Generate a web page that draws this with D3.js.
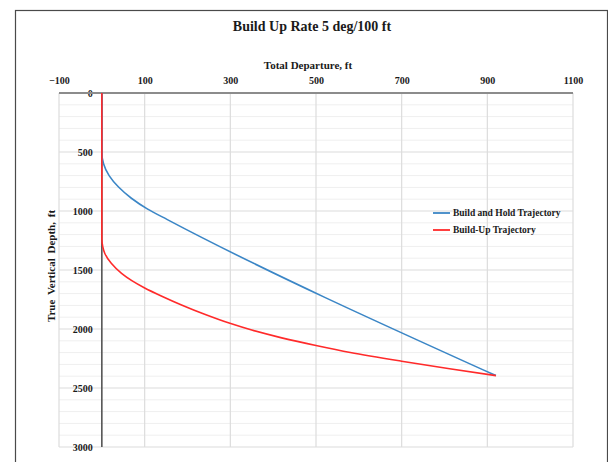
<!DOCTYPE html>
<html>
<head>
<meta charset="utf-8">
<script src="https://cdn.jsdelivr.net/npm/d3@7"></script>
<style>
  html, body { margin: 0; padding: 0; background: #fff; }
  svg { display: block; }
  text { font-family: "Liberation Serif", "Times New Roman", serif; font-weight: bold; fill: #1a1a1a; }
</style>
</head>
<body>
<svg id="chart" width="608" height="462"></svg>
<script>
// Well trajectories: [total departure (ft), true vertical depth (ft)]
const buildHoldTrajectory = [
  [0, 0], [0, 500], [4, 600], [17, 700], [39, 797], [69, 892],
  [107, 984], [153, 1073], [920, 2395]
];
const buildUpTrajectory = [
  [0, 0], [0, 1235], [2, 1300], [7, 1360], [22, 1443], [46, 1528],
  [70, 1590], [99, 1650], [140, 1722], [186, 1796], [240, 1875],
  [299, 1952], [350, 2009], [420, 2075], [500, 2140], [580, 2199],
  [700, 2273], [812, 2337], [920, 2395]
];
const seriesNames = ["Build and Hold Trajectory", "Build-Up Trajectory"];
const seriesColors = ["#3b86c6", "#ff2a2a"];

const xTickValues = [-100, 100, 300, 500, 700, 900, 1100];
const yTickValues = [0, 500, 1000, 1500, 2000, 2500, 3000];
const yMinorTickValues = d3.range(0, 3001, 100);

const svg = d3.select("#chart");

// outer chart frame
svg.append("rect")
  .attr("x", 15.5).attr("y", 10.5)
  .attr("width", 592).attr("height", 470)
  .attr("fill", "none").attr("stroke", "#4a4a4a").attr("stroke-width", 1.2);

const x = d3.scaleLinear().domain([-100, 1100]).range([59, 573]);
const y = d3.scaleLinear().domain([0, 3000]).range([93, 447]);

const grid = svg.append("g");
// minor horizontal gridlines
grid.selectAll(".minor").data(yMinorTickValues.filter(v => v % 500 !== 0)).join("line")
  .attr("x1", x(-100)).attr("x2", x(1100))
  .attr("y1", d => y(d)).attr("y2", d => y(d))
  .attr("stroke", "#efefef").attr("stroke-width", 1);
// major horizontal gridlines
grid.selectAll(".majorY").data(yTickValues).join("line")
  .attr("x1", x(-100)).attr("x2", x(1100))
  .attr("y1", d => y(d)).attr("y2", d => y(d))
  .attr("stroke", "#dcdcdc").attr("stroke-width", 1.2);
// major vertical gridlines
grid.selectAll(".majorX").data(xTickValues).join("line")
  .attr("x1", d => x(d)).attr("x2", d => x(d))
  .attr("y1", y(0)).attr("y2", y(3000))
  .attr("stroke", "#dcdcdc").attr("stroke-width", 1.2);

const fmt = d3.format("d");

// top departure axis (labels only, drawn above the zero-depth line)
const xAxis = d3.axisTop(x).tickValues(xTickValues).tickFormat(fmt).tickSize(0).tickPadding(0);
const gx = svg.append("g").attr("transform", `translate(0,${y(0) - 12})`).call(xAxis);
gx.select(".domain").remove();
gx.selectAll("text").attr("font-size", 10).attr("dy", "0.32em")
  .attr("font-family", "Liberation Serif").attr("font-weight", "bold").attr("fill", "#1a1a1a");

// depth axis labels placed beside the zero-departure line
const yAxis = d3.axisLeft(y).tickValues(yTickValues).tickFormat(fmt).tickSize(0).tickPadding(0);
const gy = svg.append("g").attr("transform", `translate(${x(0) - 9},0)`).call(yAxis);
gy.select(".domain").remove();
gy.selectAll("text").attr("font-size", 10)
  .attr("font-family", "Liberation Serif").attr("font-weight", "bold").attr("fill", "#1a1a1a");

// axis lines
svg.append("line")
  .attr("x1", x(-100)).attr("x2", x(1100)).attr("y1", y(0)).attr("y2", y(0))
  .attr("stroke", "#8c8c8c").attr("stroke-width", 2);
svg.append("line")
  .attr("x1", x(0)).attr("x2", x(0)).attr("y1", y(0)).attr("y2", y(3000))
  .attr("stroke", "#555").attr("stroke-width", 1.6);

// trajectories
const line = d3.line().x(d => x(d[0])).y(d => y(d[1])).curve(d3.curveMonotoneY);
[buildHoldTrajectory, buildUpTrajectory].forEach((s, i) => {
  svg.append("path").datum(s)
    .attr("d", line)
    .attr("fill", "none")
    .attr("stroke", seriesColors[i])
    .attr("stroke-width", 1.6)
    .attr("stroke-linejoin", "round");
});

// titles
svg.append("text").attr("x", 312).attr("y", 31).attr("text-anchor", "middle")
  .attr("font-size", 14).text("Build Up Rate 5 deg/100 ft");
svg.append("text").attr("x", 308).attr("y", 69).attr("text-anchor", "middle")
  .attr("font-size", 11).text("Total Departure, ft");
svg.append("text")
  .attr("transform", "translate(55,266) rotate(-90)")
  .attr("text-anchor", "middle").attr("font-size", 11)
  .attr("word-spacing", 2)
  .text("True Vertical Depth, ft");

// legend
const legend = svg.append("g").attr("transform", "translate(433,213)");
seriesNames.forEach((name, i) => {
  const g = legend.append("g").attr("transform", `translate(0,${i * 17})`);
  g.append("line").attr("x1", 0).attr("x2", 17).attr("y1", 0).attr("y2", 0)
    .attr("stroke", seriesColors[i]).attr("stroke-width", 1.8);
  g.append("text").attr("x", 20).attr("y", 0).attr("dy", "0.33em")
    .attr("font-size", 9.5).text(name);
});
</script>
</body>
</html>
